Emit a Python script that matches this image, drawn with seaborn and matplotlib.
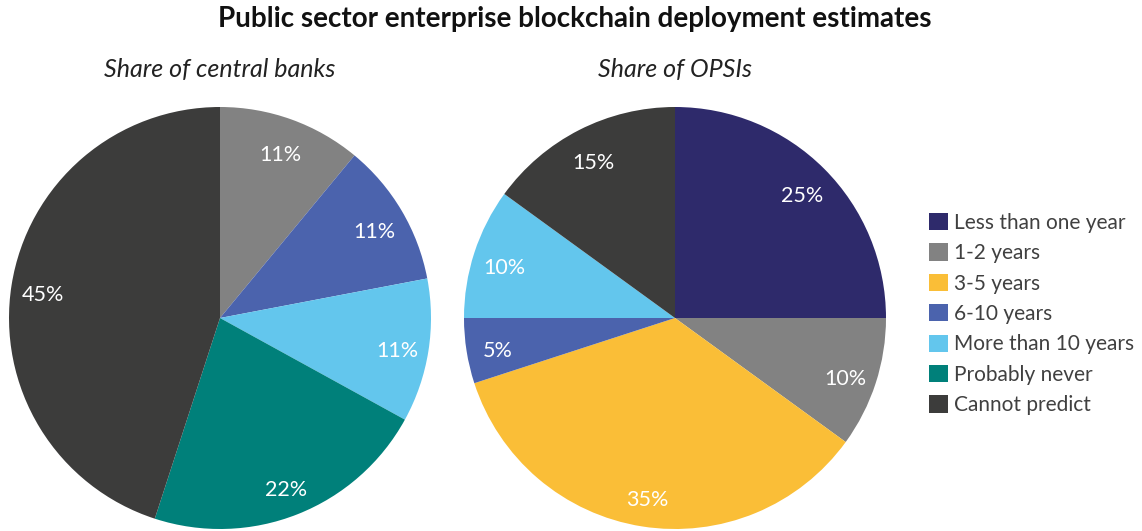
import matplotlib
matplotlib.use("Agg")
import matplotlib.pyplot as plt
import seaborn as sns
from matplotlib.patches import Patch

categories = ["Less than one year", "1-2 years", "3-5 years", "6-10 years",
              "More than 10 years", "Probably never", "Cannot predict"]
central_banks = [0, 11, 0, 11, 11, 22, 45]
opsis = [25, 10, 35, 5, 10, 0, 15]
colors = ["#2E2A6B", "#828282", "#FABE37", "#4B63AD", "#63C6ED", "#00807A", "#3C3C3B"]

title = "Public sector enterprise blockchain deployment estimates"
subtitles = ["Share of central banks", "Share of OPSIs"]

sns.set_theme(style="white")
plt.rcParams["font.family"] = ["Lato", "DejaVu Sans"]

W, H = 1142, 531
fig = plt.figure(figsize=(W / 100, H / 100), dpi=100)

def draw(ax, values):
    vals = [v for v in values if v > 0]
    cols = [c for v, c in zip(values, colors) if v > 0]
    wedges, texts, autotexts = ax.pie(
        vals, colors=cols, startangle=90, counterclock=False,
        autopct=lambda p: f"{p:.0f}%", pctdistance=0.85,
        wedgeprops=dict(linewidth=0), radius=1.0,
        textprops=dict(color="white", fontsize=15.5))
    for t in autotexts:
        x, y = t.get_position()
        t.set_position((x, y - 0.025))
    ax.set_xlim(-1, 1)
    ax.set_ylim(-1, 1)
    ax.set_aspect("equal")
    ax.axis("off")

r = 211
for cx, vals, sub in [(220, central_banks, subtitles[0]), (675, opsis, subtitles[1])]:
    ax = fig.add_axes([(cx - r) / W, (H - 318 - r) / H, 2 * r / W, 2 * r / H])
    draw(ax, vals)
    fig.text(cx / W, (H - 70) / H, sub, ha="center", va="center",
             fontsize=18, style="italic", color="#222222")

fig.text(575 / W, (H - 19) / H, title, ha="center", va="center",
         fontsize=20, fontweight="bold", color="#111111")

handles = [Patch(facecolor=c, edgecolor="none") for c in colors]
fig.legend(handles, categories, loc="center left",
           bbox_to_anchor=(929 / W, (H - 314) / H), frameon=False,
           fontsize=15, labelcolor="#404040", handlelength=0.9, handleheight=0.9,
           handletextpad=0.3, labelspacing=0.5, borderaxespad=0, borderpad=0)

fig.savefig("out.png", dpi=100)
